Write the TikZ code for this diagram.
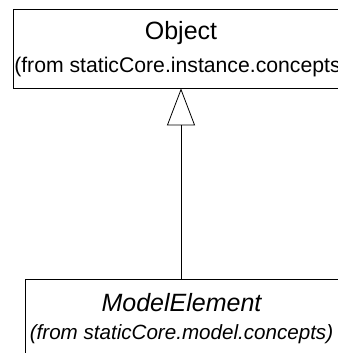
\documentclass[tikz,border=0pt]{standalone}
\usepackage{fontspec}
\setmainfont{Liberation Sans}
\usetikzlibrary{arrows.meta}
\begin{document}
\begin{tikzpicture}[x=1pt,y=-1pt,>={Triangle[open,length=37pt,width=28pt]},
  class box/.style={draw,rectangle,inner sep=0pt,line width=0.8pt},
  name text/.style={anchor=base,inner sep=0pt,font=\fontsize{25}{30}\selectfont},
  from text/.style={anchor=base,inner sep=0pt,font=\fontsize{21.2}{25}\selectfont}]
  \useasboundingbox (0,0) rectangle (337,353);
  \node[class box, minimum width=336pt, minimum height=79pt] (object) at (181,48.5) {};
  \node[name text] (object name) at (181,40) {Object};
  \node[from text] (object from) at (181,73) {(from staticCore.instance.concepts)};
  \node[class box, minimum width=313pt, minimum height=100pt] (element) at (181.5,329) {};
  \node[name text] (element name) at (181.5,311) {\itshape ModelElement};
  \node[from text, font=\fontsize{20.6}{25}\selectfont] (element from) at (181.5,339) {\itshape (from staticCore.model.concepts)};
  \draw[->, line width=0.8pt] (object.south |- element.north) -- (object.south);
\end{tikzpicture}
\end{document}
